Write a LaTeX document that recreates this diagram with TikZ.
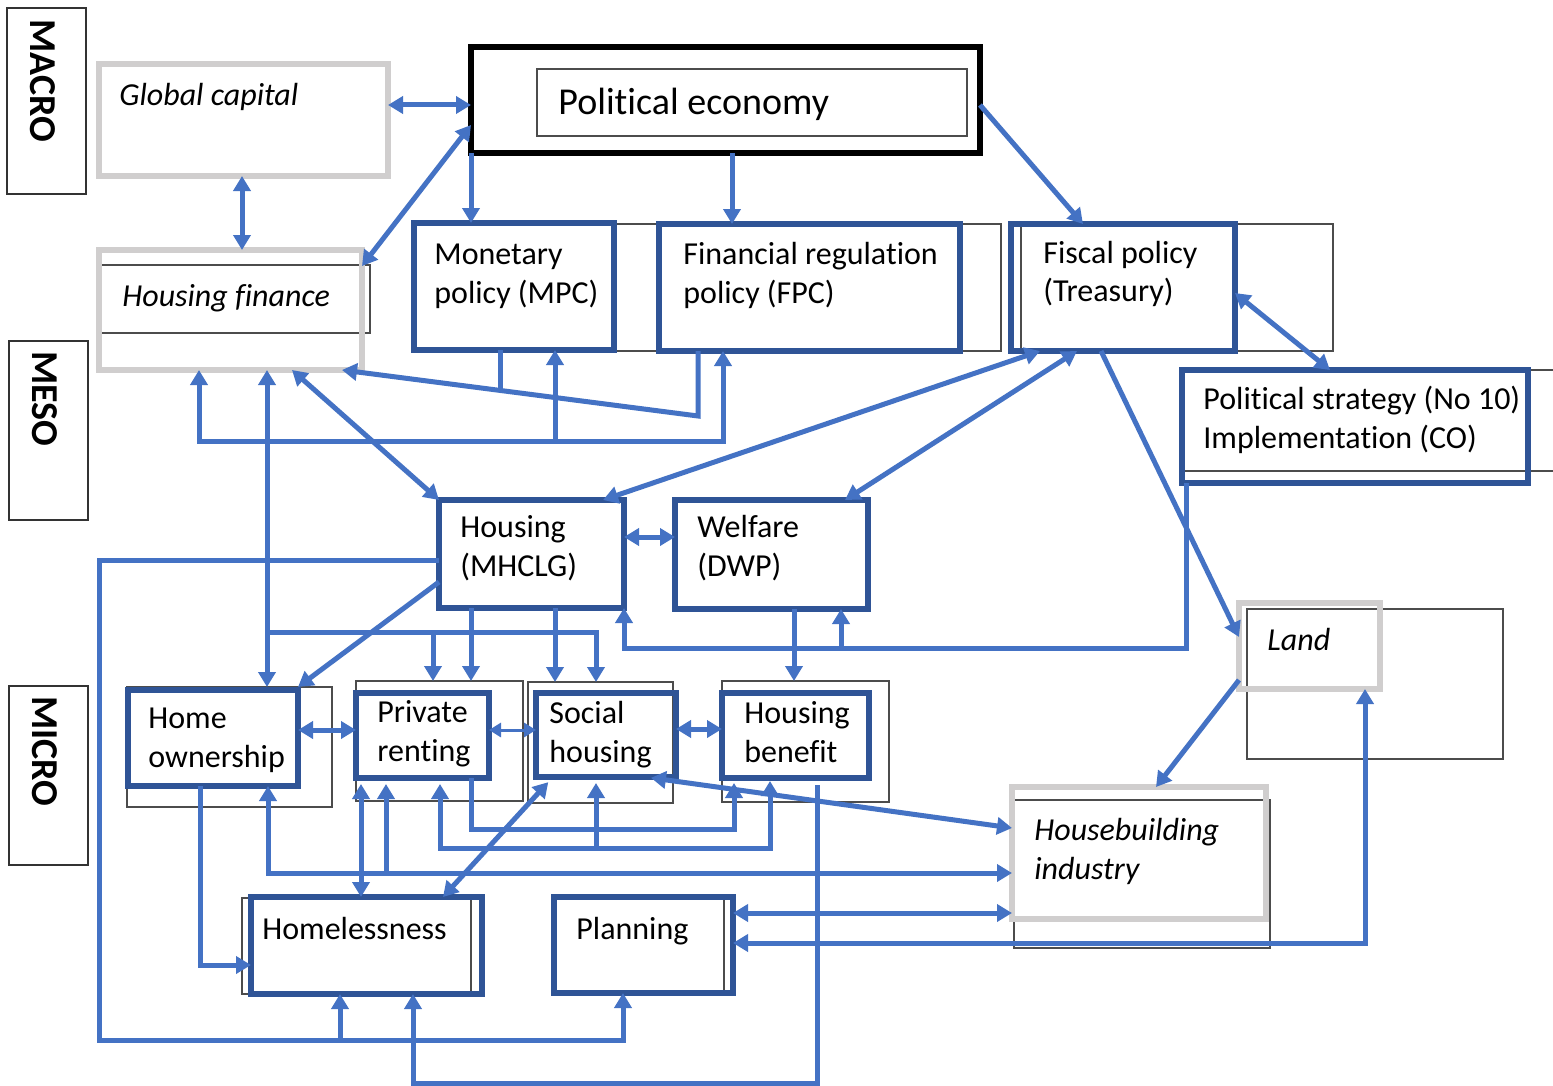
\documentclass[tikz,border=0pt]{standalone}
\usepackage{fontspec}
\setmainfont{Carlito}[Ligatures=NoCommon]
\usetikzlibrary{arrows.meta,fit}
\definecolor{lineblue}{HTML}{4472C4}
\definecolor{boxblue}{HTML}{2F5496}
\definecolor{boxgray}{HTML}{D0CECE}
\newcommand{\labsz}{\fontsize{16}{19.5}\selectfont}
\newcommand{\pesz}{\fontsize{19}{22}\selectfont}
\newcommand{\sidesz}{\fontsize{19}{22}\selectfont}
\newcommand{\mylines}[1]{\begin{tabular}[t]{@{}l@{}}#1\end{tabular}}
\begin{document}
\begin{tikzpicture}[x=0.5pt,y=-0.5pt,
  >={Triangle[length=7.5pt,width=8.5pt]},
  thinbox/.style={draw=black!70, line width=0.6pt, inner sep=0pt, outer sep=0pt, rectangle},
  sidebox/.style={draw=black!80, line width=0.6pt, inner sep=0pt, outer sep=0pt, rectangle},
  bluebox/.style={draw=boxblue, line width=2.9pt, inner sep=0pt, outer sep=0pt, rectangle},
  graybox/.style={draw=boxgray, line width=2.9pt, inner sep=0pt, outer sep=0pt, rectangle},
  blackbox/.style={draw=black, line width=2.6pt, inner sep=0pt, outer sep=0pt, rectangle},
  conn/.style={draw=lineblue, line width=2.5pt},
  thinconn/.style={draw=lineblue, line width=1.5pt, >={Triangle[length=6pt,width=7pt]}},
  lab/.style={anchor=base west, inner sep=0pt, font=\labsz},
  ilab/.style={anchor=base west, inner sep=0pt, font=\labsz\itshape},
  sidelab/.style={rotate=-90, anchor=west, inner sep=0pt, font=\sidesz\bfseries}
]
\fill[white] (0,0) rectangle (1553,1086);
\useasboundingbox (0,0) rectangle (1553,1086);

% level labels
\node[sidebox, fit={(7,8) (86,194)}] (macro) {};
\node[sidelab] (macro-t) at (43,19) {MACRO};
\node[sidebox, fit={(9,341) (88,520)}] (meso) {};
\node[sidelab] (meso-t) at (45,351) {MESO};
\node[sidebox, fit={(9,686) (88,865)}] (micro) {};
\node[sidelab] (micro-t) at (45,696) {MICRO};

% thin background frames
\node[thinbox, fit={(537,69) (967,136)}] (peo) {};
\node[thinbox, fit={(101,265) (370,333)}] (hfo) {};
\node[thinbox, fit={(414,224) (657,351)}] (mpco) {};
\node[thinbox, fit={(659,224) (1001,351)}] (fpco) {};
\node[thinbox, fit={(1021,224) (1333,351)}] (fiso) {};
\node[thinbox, fit={(1182,370) (1570,471)}] (pso) {};
\node[thinbox, fit={(127,687) (332,807)}] (hoo) {};
\node[thinbox, fit={(356,681) (523,801)}] (pro) {};
\node[thinbox, fit={(528,682) (673,803)}] (sho) {};
\node[thinbox, fit={(722,681) (889,802)}] (hbo) {};
\node[thinbox, fit={(242,898) (471,994)}] (hlo) {};
\node[thinbox, fit={(554,898) (724,993)}] (plo) {};
\node[thinbox, fit={(1247,609) (1503,759)}] (lando) {};
\node[thinbox, fit={(1014,800) (1270,948)}] (hbio) {};

% main boxes
\node[graybox, fit={(99,64) (388,176)}] (gc) {};
\node[blackbox, fit={(471,47) (980,153)}] (pe) {};
\node[graybox, fit={(99,250) (362,370)}] (hf) {};
\node[bluebox, fit={(414,223) (614,350)}] (mpc) {};
\node[bluebox, fit={(659,224) (960,351)}] (fpc) {};
\node[bluebox, fit={(1011,224) (1235,351)}] (fis) {};
\node[bluebox, fit={(1182,370) (1528,483)}] (ps) {};
\node[bluebox, fit={(439,500) (624,608)}] (mhclg) {};
\node[bluebox, fit={(675,500) (868,609)}] (dwp) {};
\node[bluebox, fit={(128,690) (298,786)}] (ho) {};
\node[bluebox, fit={(356,693) (489,778)}] (pr) {};
\node[bluebox, fit={(536,693) (676,777)}] (sh) {};
\node[bluebox, fit={(722,693) (869,778)}] (hb) {};
\node[bluebox, fit={(251,897) (482,994)}] (hl) {};
\node[bluebox, fit={(554,897) (733,993)}] (pl) {};
\node[graybox, fit={(1239,603) (1380,689)}] (land) {};
\node[graybox, fit={(1012,787) (1266,919)}] (hbi) {};

% labels
\node[ilab] (gc-t) at (119,105) {Global capital};
\node[ilab] (hf-t) at (122,306) {Housing finance};
\node[lab, font=\pesz] (pe-t) at (558,115) {Political economy};
\node[lab] (mpc-t) at (434,264) {\mylines{Monetary\\policy (MPC)}};
\node[lab] (fpc-t) at (683,264) {\mylines{Financial regulation\\policy (FPC)}};
\node[lab] (fis-t) at (1043,263) {\mylines{Fiscal policy\\(Treasury)}};
\node[lab] (ps-t) at (1203,409) {\mylines{Political strategy (No 10)\\Implementation (CO)}};
\node[lab] (mhclg-t) at (460,537) {\mylines{Housing\\(MHCLG)}};
\node[lab] (dwp-t) at (697,537) {\mylines{Welfare\\(DWP)}};
\node[lab] (ho-t) at (148,728) {\mylines{Home\\ownership}};
\node[lab] (pr-t) at (377,722) {\mylines{Private\\renting}};
\node[lab] (sh-t) at (549,723) {\mylines{Social\\housing}};
\node[lab] (hb-t) at (744,723) {\mylines{Housing\\benefit}};
\node[lab] (hl-t) at (262,939) {Homelessness};
\node[lab] (pl-t) at (576,939) {Planning};
\node[ilab] (land-t) at (1267,650) {Land};
\node[ilab] (hbi-t) at (1034,840) {\mylines{Housebuilding\\industry}};

% connectors: macro / meso
\draw[conn,<->] (gc.east |- 0,105) -- (pe.west |- 0,105);
\draw[conn,<->] (242,0 |- gc.south) -- (242,0 |- hf.north);
\draw[conn,<->] (pe.west |- 0,125) -- (hf.east |- 0,266);
\draw[conn,->] (471,0 |- pe.south) -- (471,0 |- mpc.north);
\draw[conn,->] (732,0 |- pe.south) -- (732,0 |- fpc.north);
\draw[conn,->] (pe.east |- 0,105) -- (1083,0 |- fis.north);
\draw[conn,<->] (fis.east |- 0,293) -- (1330,0 |- ps.north);
\draw[conn,->] (698,0 |- fpc.south) -- (698,416) -- (342,0 |- hf.south);
\draw[conn] (500,0 |- mpc.south) -- (500,391);
\draw[conn,<->] (199,0 |- hf.south) -- (199,441) -- (723,441) -- (723,0 |- fpc.south);
\draw[conn,->] (555,441) -- (555,0 |- mpc.south);
\draw[conn,<->] (292,0 |- hf.south) -- (mhclg.north west);
\draw[conn,<->] (1040,0 |- fis.south) -- (603,0 |- mhclg.north);
\draw[conn,<->] (1077,0 |- fis.south) -- (845,0 |- dwp.north);
\draw[conn,->] (1101,0 |- fis.south) -- (land.west |- 0,637);
\draw[conn,<->] (mhclg.east |- 0,537) -- (dwp.west |- 0,537);
\draw[conn,->] (1186,0 |- ps.south) -- (1186,648) -- (624,648) -- (624,0 |- mhclg.south);
\draw[conn,->] (841,648) -- (841,0 |- dwp.south);
\draw[conn,->] (794,0 |- dwp.south) -- (794,0 |- hbo.north);

% connectors: micro
\draw[conn,->] (mhclg.west |- 0,560) -- (99,560) -- (99,1040) -- (623,1040) -- (623,0 |- pl.south);
\draw[conn,->] (340,1040) -- (340,0 |- hl.south);
\draw[conn,->] (mhclg.west |- 0,582) -- (298,0 |- hoo.north);
\draw[conn,->] (471,0 |- mhclg.south) -- (471,0 |- pro.north);
\draw[conn,->] (555,0 |- mhclg.south) -- (555,0 |- sho.north);
\draw[conn,<->] (267,0 |- hf.south) -- (267,0 |- hoo.north);
\draw[conn,->] (267,632) -- (596,632) -- (596,0 |- sho.north);
\draw[conn,->] (433,632) -- (433,0 |- pro.north);
\draw[conn,<->] (ho.east |- 0,730) -- (pr.west |- 0,730);
\draw[thinconn,<->] (pr.east |- 0,730) -- (sh.west |- 0,730);
\draw[conn,<->] (sh.east |- 0,729) -- (hb.west |- 0,729);
\draw[conn,->] (200,0 |- ho.south) -- (200,965) -- (hl.west |- 0,965);
\draw[conn,->,shorten >=2.5pt] (471,0 |- pr.south) -- (471,829) -- (734,829) -- (734,0 |- hb.south);
\draw[conn,<->,shorten <=3pt,shorten >=1.5pt] (440,0 |- pr.south) -- (440,848) -- (770,848) -- (770,0 |- hb.south);
\draw[conn,->,shorten >=3pt] (596,848) -- (596,0 |- sh.south);
\draw[conn,<->] (268,0 |- ho.south) -- (268,873) -- (hbi.west |- 0,873);
\draw[conn,->,shorten >=3pt] (386,873) -- (386,0 |- pr.south);
\draw[conn,<->,shorten <=3pt] (361,0 |- pr.south) -- (361,0 |- hl.north);
\draw[conn,<->,shorten <=3.5pt] (553,0 |- sh.south) -- (443,0 |- hl.north);
\draw[conn,<->,shorten <=3pt] (645,0 |- sh.south) -- (hbi.west |- 0,828);
\draw[conn,->,shorten <=3.5pt] (817,0 |- hb.south) -- (817,1083) -- (413,1083) -- (413,0 |- hl.south);
\draw[conn,<->] (pl.east |- 0,913) -- (hbi.west |- 0,913);
\draw[conn,<->] (pl.east |- 0,943) -- (1365,943) -- (1365,0 |- land.south);
\draw[conn,->] (land.west |- 0,680) -- (1156,0 |- hbi.north);
\end{tikzpicture}
\end{document}
